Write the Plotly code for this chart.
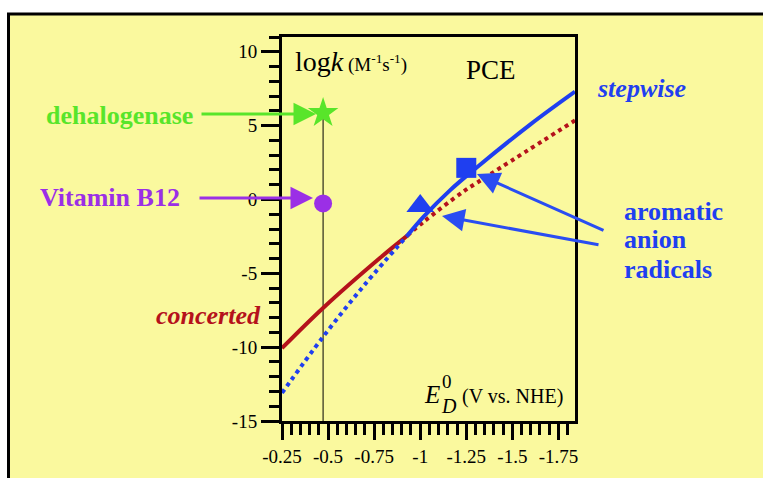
import plotly.graph_objects as go

# ---------------- data ----------------
concerted_solid_x = [-0.25, -0.473, -0.783, -0.93]
concerted_solid_y = [-10.07, -7.35, -3.95, -2.45]
concerted_dot_x = [-0.93, -1.02, -1.23, -1.31, -1.84]
concerted_dot_y = [-2.45, -1.5, 0.5, 1.15, 5.35]

stepwise_dot_x = [-0.25, -0.473, -0.70, -0.93]
stepwise_dot_y = [-13.1, -9.3, -5.75, -2.45]
stepwise_solid_x = [-0.93, -1.02, -1.16, -1.31, -1.6, -1.84]
stepwise_solid_y = [-2.45, -1.15, 0.6, 2.2, 5.1, 7.3]

dehalogenase_x = [-0.473]
dehalogenase_y = [5.85]
vitaminB12_x = [-0.473]
vitaminB12_y = [-0.27]
triangle_x = [-1.0]
triangle_y = [-0.45]
square_x = [-1.25]
square_y = [2.14]

x_tickvals = [-0.25, -0.5, -0.75, -1, -1.25, -1.5, -1.75]
x_ticktext = ["-0.25", "-0.5", "-0.75", "-1", "-1.25", "-1.5", "-1.75"]
y_tickvals = [-15, -10, -5, 0, 5, 10]
y_ticktext = ["-15", "-10", "-5", "0", "5", "10"]

# ---------------- style ----------------
W, H = 763, 478
L, R, T, B = 282, 188, 37, 57
PW, PH = W - L - R, H - T - B
YELLOW = "#FAF99E"
BLUE = "#1F3FF0"
ARROW_BLUE = "#2A4DF2"
RED = "#B5121B"
GREEN = "#58E52A"
PURPLE = "#9B2FE6"
SERIF = "Liberation Serif"


def px(X):
    return (X - L) / PW


def py(Y):
    return (H - B - Y) / PH


fig = go.Figure()

fig.add_trace(go.Scatter(x=[vitaminB12_x[0], dehalogenase_x[0]], y=[-15, dehalogenase_y[0]],
                         mode="lines", line=dict(color="black", width=1), hoverinfo="skip"))
fig.add_trace(go.Scatter(x=concerted_solid_x, y=concerted_solid_y, mode="lines",
                         line=dict(color=RED, width=4, shape="spline")))
fig.add_trace(go.Scatter(x=concerted_dot_x, y=concerted_dot_y, mode="lines",
                         line=dict(color=RED, width=4, dash="dot", shape="spline")))
fig.add_trace(go.Scatter(x=stepwise_dot_x, y=stepwise_dot_y, mode="lines",
                         line=dict(color=BLUE, width=4, dash="dot", shape="spline")))
fig.add_trace(go.Scatter(x=stepwise_solid_x, y=stepwise_solid_y, mode="lines",
                         line=dict(color=BLUE, width=4, shape="spline")))
fig.add_trace(go.Scatter(x=dehalogenase_x, y=dehalogenase_y, mode="markers",
                         marker=dict(symbol="star", size=23, color=GREEN, line=dict(width=0))))
fig.add_trace(go.Scatter(x=vitaminB12_x, y=vitaminB12_y, mode="markers",
                         marker=dict(symbol="circle", size=18, color=PURPLE, line=dict(width=0))))
fig.add_trace(go.Scatter(x=triangle_x, y=triangle_y, mode="markers",
                         marker=dict(symbol="triangle-up", size=24, color=BLUE, line=dict(width=0))))
fig.add_trace(go.Scatter(x=square_x, y=square_y, mode="markers",
                         marker=dict(symbol="square", size=20, color=BLUE, line=dict(width=0))))

axis_common = dict(
    showline=True, linecolor="black", linewidth=3, mirror=True,
    ticks="outside", tickcolor="black", tickwidth=3,
    showgrid=False, zeroline=False,
    tickfont=dict(family=SERIF, size=19, color="black"),
)

fig.update_xaxes(range=[-0.25, -1.84], tickmode="array", tickvals=x_tickvals, ticktext=x_ticktext,
                 ticklen=16,
                 minor=dict(tickmode="linear", tick0=0, dtick=0.05, ticks="outside", ticklen=11,
                            tickwidth=3, tickcolor="black", showgrid=False),
                 **axis_common)
fig.update_yaxes(range=[-15, 11], tickmode="array", tickvals=y_tickvals, ticktext=y_ticktext,
                 ticklen=18,
                 minor=dict(tickmode="linear", tick0=0, dtick=1, ticks="outside", ticklen=10,
                            tickwidth=3, tickcolor="black", showgrid=False),
                 **axis_common)

# outer yellow box with black border
fig.add_shape(type="rect", xref="paper", yref="paper",
              x0=px(8.5), x1=px(W + 20), y0=py(14), y1=py(H + 20),
              fillcolor=YELLOW, line=dict(color="black", width=3), layer="below")


def text(X, Y, s, size, color, xanchor="left", yanchor="middle"):
    fig.add_annotation(x=px(X), y=py(Y), xref="paper", yref="paper", text=s, showarrow=False,
                       xanchor=xanchor, yanchor=yanchor,
                       font=dict(family=SERIF, size=size, color=color))


def arrow(tipX, tipY, tailX, tailY, color):
    fig.add_annotation(x=px(tipX), y=py(tipY), xref="paper", yref="paper", text="",
                       showarrow=True, ax=tailX - tipX, ay=tailY - tipY,
                       arrowhead=2, arrowsize=1.5, arrowwidth=3, arrowcolor=color, standoff=0)


text(293, 62, "log<i>k</i><span style='font-size:19px'> (M<sup>-1</sup>s<sup>-1</sup>)</span>", 28, "black")
text(491, 70, "PCE", 27, "black", xanchor="center")
text(595, 88, "<b><i>stepwise</i></b>", 26, BLUE)
text(263, 315, "<b><i>concerted</i></b>", 26, RED, xanchor="right")
text(195, 115, "<b>dehalogenase</b>", 26, GREEN, xanchor="right")
text(182, 197, "<b>Vitamin B12</b>", 26, PURPLE, xanchor="right")
text(622, 211, "<b>aromatic</b>", 26, BLUE)
text(622, 240, "<b>anion</b>", 26, BLUE)
text(622, 269, "<b>radicals</b>", 26, BLUE)

text(432, 394, "<i>E</i>", 25, "black", xanchor="center")
text(447, 381, "0", 19, "black", xanchor="center")
text(449, 406, "<i>D</i>", 20, "black", xanchor="center")
text(460, 396, "(V vs. NHE)", 20, "black")

arrow(316, 114, 200, 114, GREEN)
arrow(313, 198, 198, 198, PURPLE)
arrow(477, 174, 605, 231, ARROW_BLUE)
arrow(442, 216, 600, 245, ARROW_BLUE)

fig.update_layout(
    width=W, height=H,
    margin=dict(l=L, r=R, t=T, b=B, pad=0),
    paper_bgcolor="white", plot_bgcolor=YELLOW,
    showlegend=False,
)

fig.write_html("out.html", config={"displayModeBar": False},
               post_script="document.body.style.margin='0';document.body.style.overflow='hidden';")
